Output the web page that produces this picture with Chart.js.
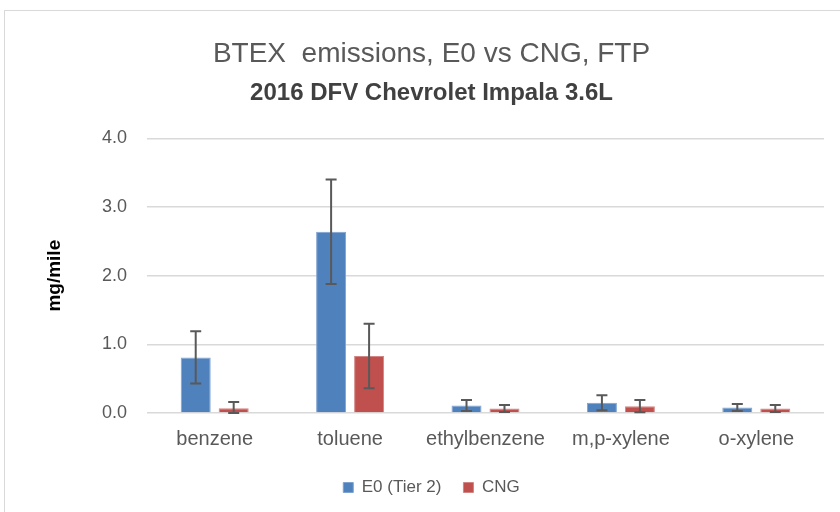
<!DOCTYPE html>
<html>
<head>
<meta charset="utf-8">
<script src="https://cdn.jsdelivr.net/npm/chart.js@4"></script>
<style>
  html, body { margin: 0; padding: 0; background: #fff; overflow: hidden; }
  #frame { position: absolute; left: 4px; top: 10px; width: 900px; height: 600px; border: 1px solid #d9d9d9; }
  #wrap { position: absolute; left: 0; top: 0; width: 840px; height: 512px; }
</style>
</head>
<body>
<div id="frame"></div>
<div id="wrap"><canvas id="btexChart" width="840" height="512"></canvas></div>
<script>
// BTEX emissions, E0 vs CNG (FTP)
const categories = ['benzene', 'toluene', 'ethylbenzene', 'm,p-xylene', 'o-xylene'];
const e0Values = [0.81, 2.64, 0.11, 0.15, 0.08];
const e0Errors = [0.38, 0.76, 0.08, 0.11, 0.05];
const cngValues = [0.07, 0.83, 0.065, 0.10, 0.065];
const cngErrors = [0.09, 0.47, 0.05, 0.09, 0.05];
const yTicks = [0, 1, 2, 3, 4];

const FONT = "'Liberation Sans', Arial, sans-serif";
const GREY = '#595959';

// error bars drawn from the data through the y scale
const errorBars = {
  id: 'errorBars',
  afterDatasetsDraw(chart) {
    const ctx = chart.ctx;
    const y = chart.scales.y;
    chart.data.datasets.forEach((ds, di) => {
      const meta = chart.getDatasetMeta(di);
      meta.data.forEach((bar, i) => {
        const v = ds.data[i], e = ds.errors[i];
        const top = y.getPixelForValue(v + e);
        const bot = y.getPixelForValue(Math.max(0, v - e));
        ctx.save();
        ctx.strokeStyle = GREY;
        ctx.lineWidth = 2;
        ctx.beginPath();
        ctx.moveTo(bar.x, top); ctx.lineTo(bar.x, bot);
        ctx.moveTo(bar.x - 5.5, top); ctx.lineTo(bar.x + 5.5, top);
        ctx.moveTo(bar.x - 5.5, bot); ctx.lineTo(bar.x + 5.5, bot);
        ctx.stroke();
        ctx.restore();
      });
    });
  }
};

const ctx = document.getElementById('btexChart').getContext('2d');
new Chart(ctx, {
  type: 'bar',
  data: {
    labels: categories,
    datasets: [
      {
        label: 'E0 (Tier 2)',
        data: e0Values,
        errors: e0Errors,
        backgroundColor: '#4F81BD',
        borderColor: '#7fa3d0',
        borderWidth: 1
      },
      {
        label: 'CNG',
        data: cngValues,
        errors: cngErrors,
        backgroundColor: '#C0504D',
        borderColor: '#d38583',
        borderWidth: 1
      }
    ]
  },
  options: {
    responsive: false,
    animation: false,
    categoryPercentage: 0.561,
    barPercentage: 0.79,
    layout: { padding: { left: 39, right: 16, top: 0, bottom: 6 } },
    plugins: {
      title: {
        display: true,
        text: 'BTEX  emissions, E0 vs CNG, FTP',
        color: GREY,
        font: { family: FONT, size: 28, weight: 'normal' },
        padding: { top: 37, bottom: 4 }
      },
      subtitle: {
        display: true,
        text: '2016 DFV Chevrolet Impala 3.6L',
        color: '#404040',
        font: { family: FONT, size: 24, weight: 'bold' },
        padding: { top: 4, bottom: 31 }
      },
      legend: {
        position: 'bottom',
        labels: {
          color: GREY,
          font: { family: FONT, size: 17 },
          boxWidth: 10,
          boxHeight: 10,
          padding: 22
        }
      },
      tooltip: { enabled: false }
    },
    scales: {
      x: {
        grid: { display: false },
        border: { display: false },
        ticks: { color: GREY, font: { family: FONT, size: 20 }, padding: 6 }
      },
      y: {
        min: 0,
        max: 4,
        afterBuildTicks(axis) { axis.ticks = yTicks.map(v => ({ value: v })); },
        afterFit(axis) { axis.width = 108; },
        grid: { color: '#d9d9d9', lineWidth: 1.5, drawTicks: false },
        border: { display: false },
        ticks: {
          color: GREY,
          font: { family: FONT, size: 18 },
          padding: 20,
          callback: v => v.toFixed(1)
        },
        title: {
          display: true,
          text: 'mg/mile',
          color: '#000',
          font: { family: FONT, size: 19, weight: 'bold' },
          padding: 4
        }
      }
    }
  },
  plugins: [errorBars]
});
</script>
</body>
</html>
